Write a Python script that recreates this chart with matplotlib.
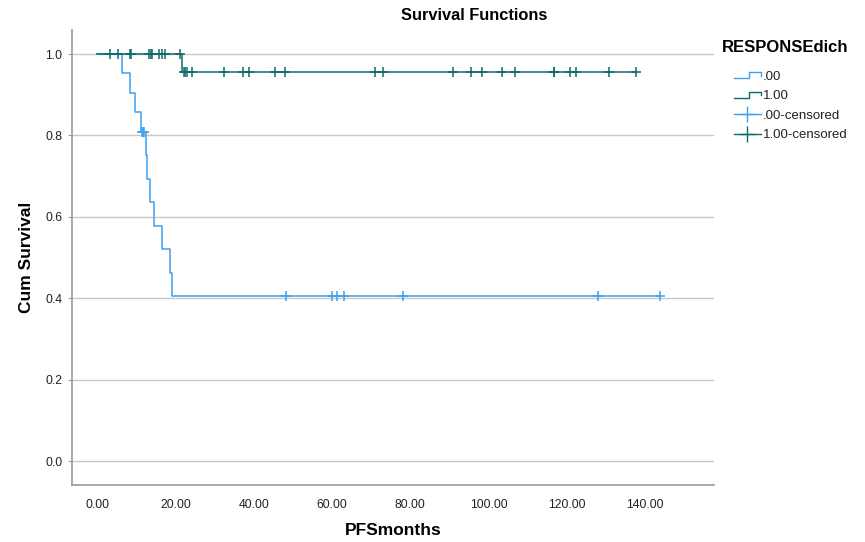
import numpy as np
import matplotlib
matplotlib.use('Agg')
import matplotlib.pyplot as plt
from matplotlib.lines import Line2D
from matplotlib.legend_handler import HandlerBase

plt.rcParams['font.family'] = ['Liberation Sans', 'DejaVu Sans']

# ---- data (PFS months) ----
group_labels = ['.00', '1.00']
legend_title = 'RESPONSEdich'

g0_event_times = [6.5, 8.4, 9.7, 11.2, 12.5, 12.7, 13.5, 14.6, 16.7, 18.7, 19.2]
g0_censor_times = [11.4, 11.7, 12.0, 48.2, 59.9, 61.4, 63.1, 78.2, 128.0, 143.7]

g1_event_times = [21.8]
g1_censor_times = [3.3, 5.3, 8.3, 8.7, 13.2, 13.7, 14.1, 15.7, 16.5, 17.4, 21.2,
                   22.1, 22.5, 22.9, 24.3, 32.5, 37.4, 38.8, 45.5, 47.9, 71.0, 73.1,
                   91.0, 95.4, 98.3, 103.4, 106.8, 116.6, 116.8, 120.8, 122.4, 130.9, 137.7]

x_ticks = [0, 20, 40, 60, 80, 100, 120, 140]
y_ticks = [0.0, 0.2, 0.4, 0.6, 0.8, 1.0]

col0 = '#3fa0ef'
col1 = '#0f6b6b'


def km(event_times, censor_times):
    times = np.array(list(event_times) + list(censor_times), float)
    ev = np.array([1] * len(event_times) + [0] * len(censor_times))
    uniq = np.unique(times[ev == 1])
    s = 1.0
    st_t, st_s = [0.0], [1.0]
    for t in uniq:
        n = np.sum(times >= t)
        d = np.sum((times == t) & (ev == 1))
        s *= (1 - d / n)
        st_t.append(t)
        st_s.append(s)
    st_t.append(times.max())
    st_s.append(s)
    st_t = np.array(st_t)
    st_s = np.array(st_s)

    def S(t):
        idx = np.searchsorted(st_t[:-1], t, side='right') - 1
        return st_s[idx]
    cs = np.array(censor_times, float)
    return st_t, st_s, cs, np.array([S(t) for t in cs])


fig = plt.figure(figsize=(8.65, 5.42), dpi=100)
ax_top, ax_bot = 30, 485
ax = fig.add_axes([72 / 865, 1 - ax_bot / 542, (714 - 72) / 865, (ax_bot - ax_top) / 542])

for ev_t, cs_t, col in [(g0_event_times, g0_censor_times, col0),
                        (g1_event_times, g1_censor_times, col1)]:
    tt, ss, ct, cv = km(ev_t, cs_t)
    ax.step(tt, ss, where='post', color=col, lw=1.1, zorder=3)
    ax.plot(ct, cv, linestyle='none', marker='+', ms=7.5, mew=1.1, color=col, zorder=4)

ax.set_xlim(-6.4, 157.6)
# 1.0 at y=54px, 0.0 at y=461px
k = (461 - 54) / 1.0
ax.set_ylim(-(ax_bot - 461) / k, 1 + (54 - ax_top) / k)
ax.set_xticks(x_ticks)
ax.set_xticklabels([f'{v:.2f}' for v in x_ticks], fontsize=8.8, color='#222222')
ax.set_yticks(y_ticks)
ax.set_yticklabels([f'{v:.1f}' for v in y_ticks], fontsize=8.8, color='#222222')
ax.tick_params(axis='x', length=0, pad=10)
ax.tick_params(axis='y', length=3, color='#999999', pad=4)
ax.grid(axis='y', color='#c8c8c8', lw=1)
ax.set_axisbelow(True)
for sp in ['top', 'right']:
    ax.spines[sp].set_visible(False)
for sp in ['left', 'bottom']:
    ax.spines[sp].set_color('#999999')
    ax.spines[sp].set_linewidth(1.2)

ax.set_xlabel('PFSmonths', fontsize=12.5, fontweight='bold', labelpad=9)
ax.set_ylabel('Cum Survival', fontsize=12.5, fontweight='bold', labelpad=8)
fig.text(474 / 865, 1 - 16 / 542, 'Survival Functions', ha='center', va='center',
         fontsize=11.8, fontweight='bold')


class StepHandler(HandlerBase):
    def create_artists(self, legend, orig_handle, xdescent, ydescent, width, height,
                       fontsize, trans):
        xs = np.array([0, 0.55, 0.55, 1.0, 1.0]) * width - xdescent
        ys = np.array([0.15, 0.15, 0.8, 0.8, 0.45]) * height - ydescent
        ln = Line2D(xs, ys, color=orig_handle.get_color(), lw=1)
        ln.set_transform(trans)
        return [ln]


fig.text(722 / 865, 1 - 47 / 542, legend_title, ha='left', va='center',
         fontsize=12, fontweight='bold')

h0 = Line2D([], [], color=col0)
h1 = Line2D([], [], color=col1)
h2 = Line2D([], [], color=col0, marker='+', ms=11, mew=1, lw=1)
h3 = Line2D([], [], color=col1, marker='+', ms=11, mew=1, lw=1)
labels = [group_labels[0], group_labels[1], group_labels[0] + '-censored',
          group_labels[1] + '-censored']
leg = fig.legend([h0, h1, h2, h3], labels,
                 handler_map={h0: StepHandler(), h1: StepHandler()},
                 loc='upper left', bbox_to_anchor=(723 / 865, 1 - 60 / 542),
                 frameon=False, fontsize=9.5,
                 handlelength=2.1, handletextpad=0.1, labelspacing=0.55,
                 borderpad=0.3)
for t in leg.get_texts():
    t.set_color('#222222')

fig.savefig('out.png', dpi=100)
